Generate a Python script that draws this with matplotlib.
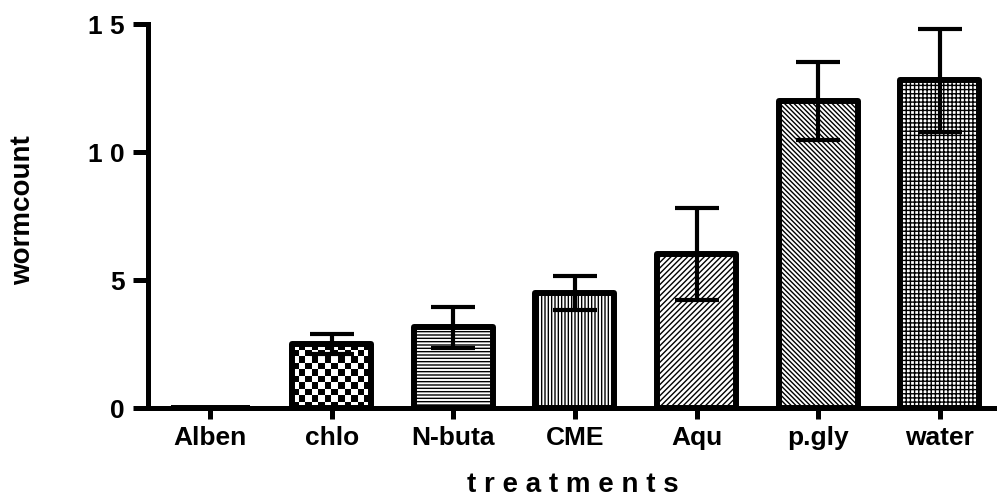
import numpy as np
import matplotlib
matplotlib.use("Agg")
import matplotlib.pyplot as plt

categories = ["Alben", "chlo", "N-buta", "CME", "Aqu", "p.gly", "water"]
means = [0.0, 2.5, 3.15, 4.5, 6.0, 12.0, 12.8]
errors = [0.0, 0.4, 0.8, 0.67, 1.8, 1.52, 2.02]
hatches = [None, "checker", "-----", "|||||", "//////", "\\" * 7, "++++"]
yticks = [0, 5, 10, 15]
ytick_labels = ["0", "5", "1 0", "1 5"]

plt.rcParams["font.family"] = ["Liberation Sans", "DejaVu Sans"]
plt.rcParams["font.weight"] = "bold"
plt.rcParams["hatch.linewidth"] = 1.0
plt.rcParams["hatch.color"] = "black"

fig = plt.figure(figsize=(9.97, 4.99), dpi=100)
W, H = 997, 499
ax = fig.add_axes([148 / W, (H - 408) / H, (W - 148) / W, (408 - 24) / H])

x = np.arange(len(categories))
bars = ax.bar(x, means, width=0.65, color="white", edgecolor="black",
              linewidth=4.3, zorder=2)
for b, h in zip(bars, hatches):
    b.set_joinstyle("round")
    if h == "checker":
        b.set_facecolor("none")
        n = 40
        chk = (np.add.outer(np.arange(n), np.arange(n)) % 2).astype(float)
        x0, y0 = b.get_x(), b.get_y()
        sx = 6.5 / 121.7
        sy = 6.5 / 25.6
        im = ax.imshow(chk, cmap="gray", interpolation="nearest",
                       extent=[x0, x0 + n * sx, y0, y0 + n * sy],
                       origin="lower", zorder=1.9, aspect="auto")
        im.set_clip_path(b)
    elif h:
        b.set_hatch(h)

ax.errorbar(x[1:], means[1:], yerr=errors[1:], fmt="none", ecolor="black",
            elinewidth=3, capsize=16, capthick=3, zorder=3)

ax.set_xlim(-0.51, 6.47)
ax.set_ylim(0, 15)
ax.set_yticks(yticks)
ax.set_yticklabels(ytick_labels)
ax.set_xticks(x)
ax.set_xticklabels(categories)

for s in ["top", "right"]:
    ax.spines[s].set_visible(False)
for s in ["left", "bottom"]:
    ax.spines[s].set_linewidth(3.6)
    ax.spines[s].set_capstyle("projecting")

ax.tick_params(axis="y", length=11, width=3.6, labelsize=19, pad=6)
ax.tick_params(axis="x", length=8, width=3.6, labelsize=19, pad=5)
for lab in ax.get_xticklabels() + ax.get_yticklabels():
    lab.set_fontweight("bold")

ax.set_xlabel("t r e a t m e n t s", fontsize=20, fontweight="bold", labelpad=16)
fig.text(23 / W, 1 - 210 / H, "wormcount", rotation=90, fontsize=20,
         fontweight="bold", ha="center", va="center")

fig.savefig("out.png", dpi=100)
